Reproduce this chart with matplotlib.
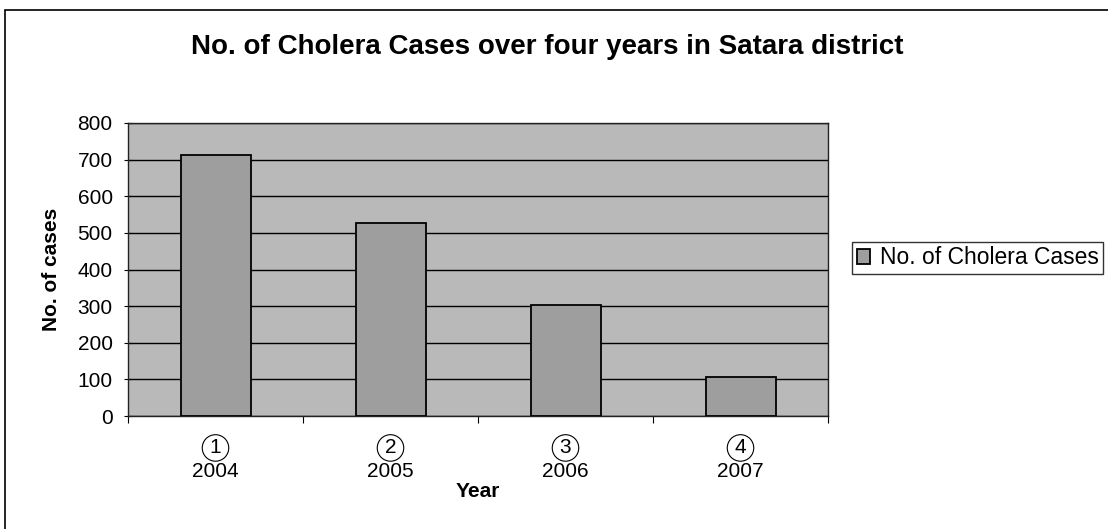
import numpy as np
import matplotlib
matplotlib.use('Agg')
import matplotlib.pyplot as plt
from matplotlib.patches import Rectangle

plt.rcParams['font.family'] = ['Liberation Sans', 'DejaVu Sans']

# data
years = ['2004', '2005', '2006', '2007']
marks = ['1', '2', '3', '4']          # handwritten circled numbers
cases = [713, 528, 303, 106]

fig = plt.figure(figsize=(11.08, 5.29), dpi=100)
ax = fig.add_axes([128/1108, 1-416/529, 700/1108, 293/529])

x = np.arange(len(years))
ax.bar(x, cases, width=0.4, color='#9e9e9e', edgecolor='black', linewidth=1.3,
       label='No. of Cholera Cases', zorder=3)

ax.set_facecolor('#b9b9b9')
ax.set_xlim(-0.5, len(years)-0.5)
ax.set_ylim(0, 800)
ax.set_yticks(np.arange(0, 801, 100))
ax.yaxis.grid(True, color='black', linewidth=1.0, zorder=0)
ax.set_axisbelow(True)

# category ticks at the boundaries, labels at centre
ax.set_xticks(np.arange(-0.5, len(years)), minor=False)
ax.set_xticklabels([])
ax.set_xticks(x, minor=True)
ax.set_xticklabels(years, minor=True, fontsize=15)
ax.tick_params(axis='x', which='minor', length=0, pad=33)
ax.tick_params(axis='x', which='major', length=5, direction='out')
ax.tick_params(axis='y', labelsize=15, length=6, direction='inout', pad=8)

for s in ax.spines.values():
    s.set_linewidth(1.0)
    s.set_color('#222222')

for xi, m in zip(x, marks):
    ax.annotate(m, xy=(xi, 0), xycoords=('data', 'axes fraction'),
                xytext=(0, -23), textcoords='offset points',
                ha='center', va='center', fontsize=15,
                bbox=dict(boxstyle='circle,pad=0.18', fc='none', ec='black', lw=0.8))

ax.set_xlabel('Year', fontsize=15, fontweight='bold', labelpad=1)
ax.set_ylabel('No. of cases', fontsize=15, fontweight='bold', labelpad=12)

fig.text(547/1108, 1-47/529, 'No. of Cholera Cases over four years in Satara district',
         ha='center', va='center', fontsize=20, fontweight='bold')

ax.legend(loc='center left', bbox_to_anchor=(852/1108, 1-258/529),
          bbox_transform=fig.transFigure, fontsize=16.5, frameon=True,
          fancybox=False, edgecolor='black', handlelength=0.6, handleheight=0.6,
          handletextpad=0.4, borderpad=0.2, borderaxespad=0)

# outer chart frame, cut off by the scan at right and bottom
fig.patches.append(Rectangle((5/1108, -0.05), 1.1, 1-10/529+0.05,
                             transform=fig.transFigure, fill=False,
                             edgecolor='black', linewidth=1.2))

fig.savefig('out.png', dpi=100)
